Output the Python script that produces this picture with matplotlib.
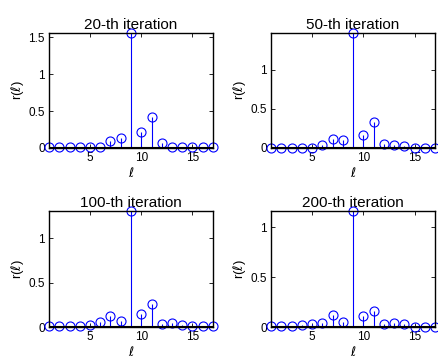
import matplotlib
matplotlib.use('Agg')
import matplotlib.pyplot as plt
import numpy as np

plt.rcParams['font.family'] = ['Liberation Sans', 'DejaVu Sans']
plt.rcParams['mathtext.fontset'] = 'dejavusans'

lags = np.arange(1, 18)
titles = ['20-th iteration', '50-th iteration', '100-th iteration', '200-th iteration']

r_20 = [0.01, 0.01, 0.01, 0.01, 0.01, 0.02, 0.10, 0.13, 1.56, 0.22, 0.42, 0.07, 0.02, 0.01, 0.01, 0.01, 0.01]
r_50 = [0.005, 0.005, 0.005, 0.005, 0.005, 0.034, 0.114, 0.097, 1.47, 0.17, 0.335, 0.047, 0.034, 0.02, 0.005, 0.005, 0.005]
r_100 = [0.01, 0.01, 0.01, 0.01, 0.026, 0.053, 0.125, 0.072, 1.31, 0.143, 0.257, 0.034, 0.045, 0.026, 0.01, 0.01, 0.01]
r_200 = [0.01, 0.01, 0.01, 0.017, 0.027, 0.044, 0.12, 0.05, 1.16, 0.107, 0.164, 0.027, 0.04, 0.027, 0.005, 0.005, 0.005]
all_r = [r_20, r_50, r_100, r_200]

yticks = [[0, 0.5, 1, 1.5], [0, 0.5, 1], [0, 0.5, 1], [0, 0.5, 1]]
ytick_labels = [['0', '0.5', '1', '1.5'], ['0', '0.5', '1'], ['0', '0.5', '1'], ['0', '0.5', '1']]

fig = plt.figure(figsize=(4.38, 3.58), dpi=100)

# axes boxes in figure fractions (left, bottom, width, height)
boxes = [
    [49 / 438, 1 - 148 / 358, 164 / 438, 115 / 358],
    [271 / 438, 1 - 148 / 358, 164 / 438, 115 / 358],
    [49 / 438, 1 - 327 / 358, 164 / 438, 116 / 358],
    [271 / 438, 1 - 327 / 358, 164 / 438, 116 / 358],
]

for i in range(4):
    ax = fig.add_axes(boxes[i])
    vals = all_r[i]
    markers, stems, base = ax.stem(lags, vals, linefmt='b-', markerfmt='bo', basefmt='k-')
    markers.set_markerfacecolor('none')
    markers.set_markeredgecolor('blue')
    markers.set_markersize(6.5)
    markers.set_markeredgewidth(0.8)
    markers.set_clip_on(False)
    stems.set_linewidth(0.8)
    base.set_linewidth(1.5)

    ax.set_xlim(1, 17)
    ax.set_ylim(0, max(vals))
    ax.set_xticks([5, 10, 15])
    ax.set_yticks(yticks[i])
    ax.set_yticklabels(ytick_labels[i])
    ax.tick_params(direction='in', top=True, right=True, labelsize=8.5, length=3, width=0.6, pad=3)
    for sp in ax.spines.values():
        sp.set_linewidth(1.0)

    ax.set_title(titles[i], fontsize=11, pad=3)
    ax.set_xlabel(r'$\ell$', fontsize=9, labelpad=1)
    ax.set_ylabel(r'r($\ell$)', fontsize=9.5, labelpad=2)

plt.savefig('out.png', dpi=100)
